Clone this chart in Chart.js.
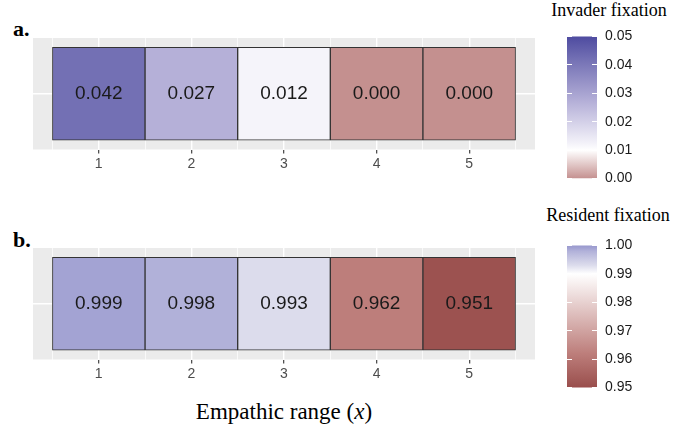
<!DOCTYPE html>
<html lang="en">
<head>
<meta charset="UTF-8">
<title>Invader and resident fixation by empathic range</title>
<script src="https://cdn.jsdelivr.net/npm/chart.js"></script>
<style>
  html, body { margin: 0; padding: 0; background: #fff; }
  body {
    width: 673px; height: 429px; position: relative; overflow: hidden;
    font-family: "Liberation Serif", "Times New Roman", serif; color: #000;
  }
  canvas { position: absolute; }
  .lbl { position: absolute; white-space: nowrap; line-height: 1; }
  .tag { font-weight: bold; font-size: 22px; }
  .legend-title { font-size: 18px; transform: translateX(-50%); }
  #xTitle { font-size: 23px; transform: translateX(-50%); }
</style>
</head>
<body>
<div class="lbl tag" style="left:13px; top:18px;">a.</div>
<div class="lbl tag" style="left:13px; top:229px;">b.</div>
<div class="lbl legend-title" style="left:609px; top:1px;">Invader fixation</div>
<div class="lbl legend-title" style="left:608px; top:206px;">Resident fixation</div>
<div class="lbl" id="xTitle" style="left:284px; top:400px;">Empathic range (<i>x</i>)</div>

<canvas id="panelA" width="555" height="180" style="left:0; top:0;"></canvas>
<canvas id="panelB" width="555" height="180" style="left:0; top:210px;"></canvas>
<canvas id="barA" width="113" height="175" style="left:560px; top:20px;"></canvas>
<canvas id="barB" width="113" height="175" style="left:560px; top:229px;"></canvas>

<script>
// data
var empathicRange = [1, 2, 3, 4, 5];
var invaderFixation = [0.042, 0.027, 0.012, 0.000, 0.000];
var residentFixation = [0.999, 0.998, 0.993, 0.962, 0.951];
var invaderTicks = [0.00, 0.01, 0.02, 0.03, 0.04, 0.05];
var residentTicks = [0.95, 0.96, 0.97, 0.98, 0.99, 1.00];

// colour scales (value -> colour)
var invaderStops = [[0, '#C4908F'], [0.01, '#FFFFFF'], [0.012, '#F5F4FA'], [0.027, '#B5B0D8'], [0.042, '#7370B4'], [0.05, '#4E4BA0']];
var residentStops = [[0.95, '#9A4C4B'], [0.951, '#9C5250'], [0.962, '#BD7E7B'], [0.99, '#FFFFFF'], [0.993, '#DCDCEC'], [0.998, '#B1B1D9'], [0.999, '#A3A3D3'], [1.0, '#9898CD']];

Chart.defaults.font.family = '"Liberation Sans", Arial, sans-serif';

function hexToRgb(h) {
  var n = parseInt(h.slice(1), 16);
  return [(n >> 16) & 255, (n >> 8) & 255, n & 255];
}

function colourAt(stops, v) {
  if (v <= stops[0][0]) return stops[0][1];
  for (var i = 1; i < stops.length; i++) {
    if (v <= stops[i][0]) {
      var t = (v - stops[i - 1][0]) / (stops[i][0] - stops[i - 1][0]);
      var a = hexToRgb(stops[i - 1][1]), b = hexToRgb(stops[i][1]);
      return 'rgb(' + a.map(function (x, k) { return Math.round(x + (b[k] - x) * t); }).join(',') + ')';
    }
  }
  return stops[stops.length - 1][1];
}

// grey ggplot-style panel
var panelBg = {
  id: 'panelBg',
  beforeDraw: function (chart) {
    var a = chart.chartArea, ctx = chart.ctx;
    ctx.save();
    ctx.fillStyle = '#EBEBEB';
    ctx.fillRect(a.left, a.top, a.right - a.left, a.bottom - a.top);
    ctx.restore();
  }
};

// value written in the middle of each tile
var tileText = {
  id: 'tileText',
  afterDatasetsDraw: function (chart, args, opts) {
    var ctx = chart.ctx;
    ctx.save();
    ctx.font = '19px "Liberation Sans", Arial, sans-serif';
    ctx.fillStyle = '#1A1A1A';
    ctx.textAlign = 'center';
    ctx.textBaseline = 'middle';
    chart.getDatasetMeta(0).data.forEach(function (el, i) {
      ctx.fillText(opts.values[i].toFixed(3), el.x, (el.y + el.base) / 2);
    });
    ctx.restore();
  }
};

function makePanel(id, values, stops) {
  var minorTicks = [empathicRange[0] - 0.5].concat(empathicRange.map(function (c) { return c + 0.5; }));
  return new Chart(document.getElementById(id), {
    type: 'bar',
    data: {
      datasets: [{
        data: empathicRange.map(function (c) { return { x: c, y: [-0.5, 0.5] }; }),
        backgroundColor: values.map(function (v) { return colourAt(stops, v); }),
        borderColor: '#333333',
        borderWidth: 1,
        borderSkipped: false,
        barPercentage: 1,
        categoryPercentage: 1
      }]
    },
    options: {
      responsive: false,
      animation: false,
      devicePixelRatio: 1,
      layout: { padding: { left: 33, right: 20, top: 38, bottom: 0.5 } },
      plugins: { legend: { display: false }, tooltip: { enabled: false }, tileText: { values: values } },
      scales: {
        x: {
          type: 'linear', min: 0.29, max: 5.71, offset: false,
          afterBuildTicks: function (s) { s.ticks = empathicRange.map(function (v) { return { value: v }; }); },
          afterFit: function (s) { s.height = 30; },
          grid: { offset: false, color: '#FFFFFF', lineWidth: 1.4, tickColor: '#333333', tickLength: 4, tickWidth: 1.1 },
          border: { display: false },
          ticks: { color: '#4D4D4D', font: { size: 14 }, padding: 2, callback: function (v) { return String(v); } }
        },
        xMinor: {
          type: 'linear', axis: 'x', position: 'bottom', min: 0.29, max: 5.71, offset: false,
          afterBuildTicks: function (s) { s.ticks = minorTicks.map(function (v) { return { value: v }; }); },
          afterFit: function (s) { s.height = 0; },
          grid: { offset: false, color: '#FFFFFF', lineWidth: 0.7, drawTicks: false },
          border: { display: false },
          ticks: { display: false }
        },
        y: {
          min: -0.6, max: 0.6,
          afterBuildTicks: function (s) { s.ticks = [{ value: 0 }]; },
          afterFit: function (s) { s.width = 0; },
          grid: { color: '#FFFFFF', lineWidth: 1.4, drawTicks: false },
          border: { display: false },
          ticks: { display: false }
        }
      }
    },
    plugins: [panelBg, tileText]
  });
}

function makeColourBar(id, stops, tickVals) {
  var lo = tickVals[0], hi = tickVals[tickVals.length - 1];
  return new Chart(document.getElementById(id), {
    type: 'bar',
    data: {
      labels: [''],
      datasets: [{
        data: [[lo, hi]],
        backgroundColor: function (c) {
          var chart = c.chart;
          if (!chart.chartArea) return 'rgba(0,0,0,0)';
          var y = chart.scales.y;
          var g = chart.ctx.createLinearGradient(0, y.getPixelForValue(lo), 0, y.getPixelForValue(hi));
          stops.forEach(function (s) { g.addColorStop((s[0] - lo) / (hi - lo), s[1]); });
          return g;
        },
        borderWidth: 0,
        barPercentage: 1,
        categoryPercentage: 1
      }]
    },
    options: {
      responsive: false,
      animation: false,
      devicePixelRatio: 1,
      layout: { padding: { left: 7, right: 36, top: 14, bottom: 14 } },
      plugins: { legend: { display: false }, tooltip: { enabled: false } },
      scales: {
        x: { display: false },
        y: {
          position: 'right', min: lo, max: hi,
          afterBuildTicks: function (s) { s.ticks = tickVals.map(function (v) { return { value: v }; }); },
          afterFit: function (s) { s.width = 40; },
          grid: { color: '#FFFFFF', lineWidth: 1, drawTicks: false, z: 1 },
          border: { display: false, dash: [5, 20] },
          ticks: { padding: 8, color: '#1A1A1A', font: { size: 14 }, callback: function (v) { return v.toFixed(2); } }
        }
      }
    }
  });
}

makePanel('panelA', invaderFixation, invaderStops);
makePanel('panelB', residentFixation, residentStops);
makeColourBar('barA', invaderStops, invaderTicks);
makeColourBar('barB', residentStops, residentTicks);
</script>
</body>
</html>
